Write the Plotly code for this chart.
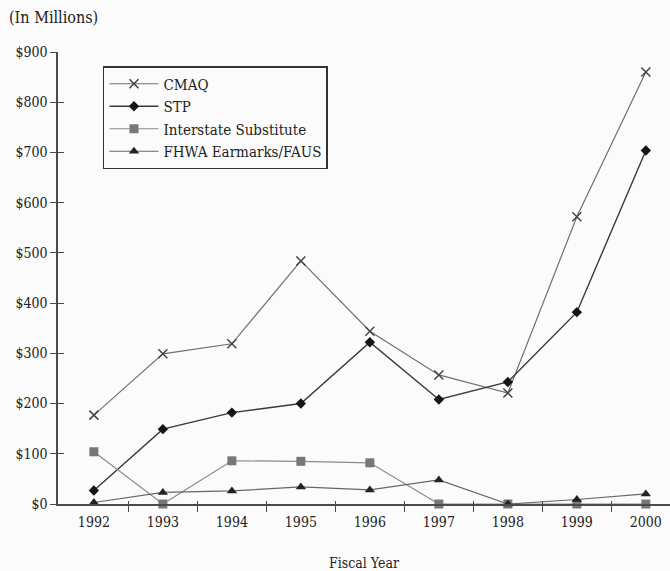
import plotly.graph_objects as go

years = [1992, 1993, 1994, 1995, 1996, 1997, 1998, 1999, 2000]
cmaq = [177, 299, 319, 484, 344, 257, 221, 572, 860]
stp = [27, 149, 182, 200, 322, 208, 243, 382, 704]
interstate = [104, 0, 86, 85, 82, 0, 0, 0, 0]
fhwa = [3, 23, 26, 34, 28, 48, 0, 9, 20]
y_ticks = [0, 100, 200, 300, 400, 500, 600, 700, 800, 900]
y_labels = ["$0", "$100", "$200", "$300", "$400", "$500", "$600", "$700", "$800", "$900"]
boundaries = [1992.5, 1993.5, 1994.5, 1995.5, 1996.5, 1997.5, 1998.5, 1999.5]

FONT = "DejaVu Serif Condensed, Liberation Serif, serif"
TXT = "#222"
AX = "#4a4a4a"
XR = [1991.48, 2000.35]
YR = [0, 900]

fig = go.Figure()
fig.add_trace(go.Scatter(x=years, y=cmaq, name="CMAQ", mode="lines+markers",
                         line=dict(color="#707070", width=1.2),
                         marker=dict(symbol="x-thin", size=9, line=dict(color="#444", width=1.5)),
                         cliponaxis=False))
fig.add_trace(go.Scatter(x=years, y=stp, name="STP", mode="lines+markers",
                         line=dict(color="#3a3a3a", width=1.4),
                         marker=dict(symbol="diamond", size=8, color="#151515"),
                         cliponaxis=False))
fig.add_trace(go.Scatter(x=years, y=interstate, name="Interstate Substitute", mode="lines+markers",
                         line=dict(color="#8a8a8a", width=1.2),
                         marker=dict(symbol="square", size=9, color="#777"),
                         cliponaxis=False))
fig.add_trace(go.Scatter(x=years, y=fhwa, name="FHWA Earmarks/FAUS", mode="lines+markers",
                         line=dict(color="#666", width=1.2),
                         marker=dict(symbol="triangle-up", size=9, color="#222"),
                         cliponaxis=False))
# invisible trace to activate overlay axes (used for crossing tick marks)
fig.add_trace(go.Scatter(x=[years[0]], y=[y_ticks[0]], xaxis="x2", yaxis="y2",
                         mode="markers", marker=dict(opacity=0), showlegend=False, hoverinfo="skip"))

fig.update_layout(
    width=670, height=571,
    margin=dict(l=58, r=0, t=52, b=67),
    paper_bgcolor="#fbfbfb", plot_bgcolor="#fbfbfb",
    font=dict(family=FONT, size=14, color=TXT),
    showlegend=True,
    legend=dict(x=0.0735, y=0.969, xanchor="left", yanchor="top",
                bgcolor="rgba(0,0,0,0)", bordercolor="#333", borderwidth=1.5,
                font=dict(family=FONT, size=15, color=TXT),
                tracegroupgap=0, itemwidth=49),
    xaxis=dict(range=XR, tickmode="array", tickvals=years, ticktext=[str(y) for y in years],
               ticks="", showgrid=False, zeroline=False, showline=True, linecolor=AX, linewidth=1.5,
               tickfont=dict(family=FONT, size=14, color=TXT), ticklabelstandoff=4,
               minor=dict(tickmode="array", tickvals=boundaries, ticks="outside", ticklen=6,
                          tickwidth=1.2, tickcolor=AX, showgrid=False),
               title=dict(text="Fiscal Year", font=dict(family=FONT, size=14, color=TXT), standoff=30)),
    yaxis=dict(range=YR, tickmode="array", tickvals=y_ticks, ticktext=y_labels,
               ticks="outside", ticklen=6, tickwidth=1.2, tickcolor=AX,
               showgrid=False, zeroline=False, showline=True, linecolor=AX, linewidth=1.5,
               tickfont=dict(family=FONT, size=14, color=TXT), ticklabelstandoff=0),
    xaxis2=dict(range=XR, overlaying="x", anchor="y2", tickmode="array", tickvals=boundaries,
                ticks="inside", ticklen=3, tickwidth=1.2, tickcolor=AX, showticklabels=False,
                showgrid=False, zeroline=False, showline=False),
    yaxis2=dict(range=YR, overlaying="y", anchor="x2", tickmode="array", tickvals=y_ticks,
                ticks="inside", ticklen=6, tickwidth=1.2, tickcolor=AX, showticklabels=False,
                showgrid=False, zeroline=False, showline=False),
    annotations=[dict(text="(In Millions)", xref="paper", yref="paper", x=-0.083, y=1.0,
                      yshift=35, xanchor="left", yanchor="middle", showarrow=False,
                      font=dict(family=FONT, size=16, color=TXT))],
)

fig.write_html("out.html", config={"displayModeBar": False},
               post_script="document.body.style.margin='0';document.body.style.background='#fbfbfb';")
